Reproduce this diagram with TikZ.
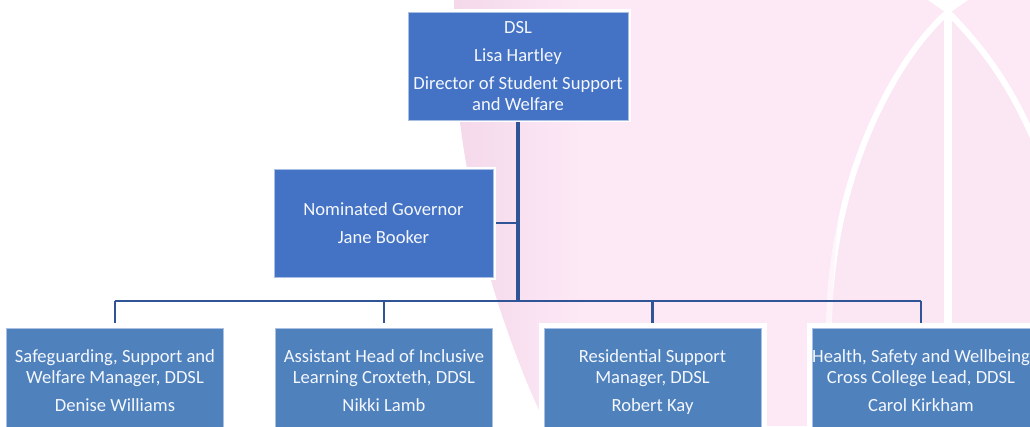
\documentclass[tikz,border=0pt]{standalone}
\usepackage{fontspec}
\setmainfont{Carlito}
\pgfdeclarelayer{under}
\pgfsetlayers{under,main}
\definecolor{pinkbase}{HTML}{FDE8F6}
\definecolor{pinkin}{HTML}{FBE6F4}
\definecolor{pinkedge}{HTML}{F3D8E9}
\definecolor{boxdark}{HTML}{4472C4}
\definecolor{boxmid}{HTML}{4F81BD}
\definecolor{boxline}{HTML}{A9C0E4}
\definecolor{conncol}{HTML}{2F5597}
\definecolor{txt}{HTML}{F4F7FD}
\newcommand{\tl}[1]{\strut #1}
\tikzset{
  x=1pt,y=-1pt,
  orgbox/.style={outer sep=0pt,inner sep=0pt,align=center,text=txt,
    font=\fontsize{18.6}{21}\selectfont,draw=boxline,line width=.35pt},
  topbox/.style={orgbox,fill=boxdark,minimum width=220pt,minimum height=108pt,
    preaction={draw=white,line width=5pt}},
  staffbox/.style={orgbox,fill=boxmid,minimum width=217pt,minimum height=110pt,
    preaction={draw=white,line width=11pt}},
  trunk/.style={draw=conncol,line width=3.4pt},
  rail/.style={draw=conncol,line width=2.6pt},
  drop/.style={draw=conncol,line width=2.8pt},
  arcline/.style={draw=white,line width=6pt,line cap=round}
}
\begin{document}
\begin{tikzpicture}
\useasboundingbox (0,0) rectangle (1030,426);
\clip (0,0) rectangle (1030,426);
\node[topbox] (dsl) at (518,65.7) {DSL\\[7pt]Lisa Hartley\\[7pt]Director of Student Support\\and Welfare};
\node[topbox,minimum width=219pt] (gov) at (383.5,223) {Nominated Governor\\[7pt]Jane Booker};
\node[staffbox] (s1) at (115,383) {\tl{Safeguarding, Support and}\\\tl{Welfare Manager, DDSL}\\[7pt]\tl{Denise Williams}};
\node[staffbox] (s2) at (384,383) {\tl{Assistant Head of Inclusive}\\\tl{Learning Croxteth, DDSL}\\[7pt]\tl{Nikki Lamb\hspace{14pt}}};
\node[staffbox] (s3) at (652.5,383) {\tl{Residential Support}\\\tl{Manager, DDSL}\\[7pt]\tl{Robert Kay}};
\node[staffbox,minimum width=218pt] (s4) at (921,383) {\tl{Health, Safety and Wellbeing}\\\tl{Cross College Lead, DDSL}\\[7pt]\tl{Carol Kirkham}};
\coordinate (bus) at (518,301);
\begin{pgfonlayer}{under}
  % pink backdrop
  \begin{scope}
    \clip (454,0) -- (460,122) .. controls (465,165) and (478,230) .. (491,280)
      .. controls (500,312) and (522,375) .. (540,412) -- (540,426) -- (1030,426) -- (1030,0) -- cycle;
    \fill[pinkbase] (580,0) rectangle (1030,426);
    \shade[left color=pinkedge,right color=pinkbase] (450,0) rectangle (580.5,426);
  \end{scope}
  \fill[pinkin] (948,12) .. controls (895,58) and (829,180) .. (829,322) -- (1030,322) -- (1030,132) .. controls (1010,85) and (985,50) .. cycle;
  \fill[white] (928,0) -- (948,14) -- (968,0) -- cycle;
  \draw[arcline] (948,12) .. controls (895,58) and (829,180) .. (829,330);
  \draw[pinkbase,opacity=.4,line width=7pt] (838,200) .. controls (832,235) and (829,280) .. (829,330);
  \draw[arcline] (948,12) .. controls (985,50) and (1010,85) .. (1034,140);
  \draw[arcline,line width=8pt] (948,12) -- (948,330);
  % connectors
  \draw[trunk] (dsl.south) -- (bus);
  \draw[rail] (gov.east) -- (gov.east -| dsl.south);
  \draw[rail] (s1.north |- bus) -- (s4.north |- bus);
  \draw[drop] (s1.north |- bus) -- (s1.north);
  \draw[drop] (s2.north |- bus) -- (s2.north);
  \draw[drop] (s3.north |- bus) -- (s3.north);
  \draw[drop] (s4.north |- bus) -- (s4.north);
\end{pgfonlayer}
\end{tikzpicture}
\end{document}
